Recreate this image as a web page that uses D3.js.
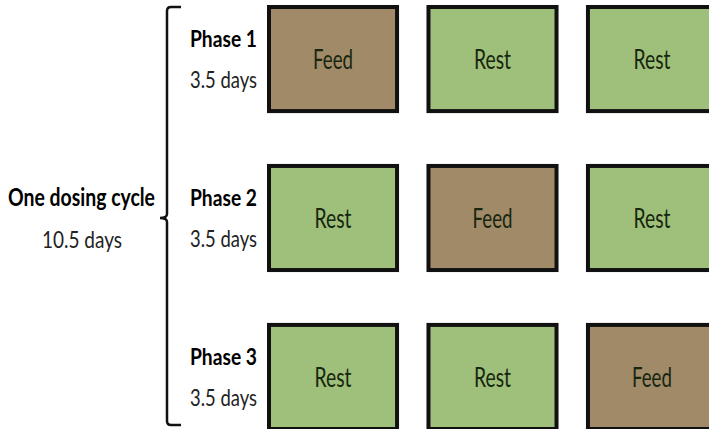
<!DOCTYPE html>
<html lang="en">
<head>
    <meta charset="UTF-8">
    <title>Dosing cycle</title>
    <script src="https://d3js.org/d3.v7.min.js"></script>
    <style>
        body { margin: 0; background: #fff; }
        text { font-family: Lato, "Open Sans", sans-serif; }
    </style>
</head>
<body>
<div id="chart"></div>

<script>
    var phases = ["Phase 1", "Phase 2", "Phase 3"];
    var durations = ["3.5 days", "3.5 days", "3.5 days"];
    var slots = [0, 1, 2];
    var schedule = [
        ["Feed", "Rest", "Rest"],
        ["Rest", "Feed", "Rest"],
        ["Rest", "Rest", "Feed"]
    ];
    var cycleLabel = "One dosing cycle";
    var cycleDays = "10.5 days";

    var w = 709;
    var h = 429;

    var colors = { Feed: "#a08a68", Rest: "#9ec07a" };
    var textColor = "#18260f";

    var svg = d3.select("#chart")
                .append("svg")
                .attr("width", w)
                .attr("height", h);

    var x = d3.scaleBand()
              .domain(slots)
              .range([267, 718])
              .paddingInner(0.172);

    var y = d3.scaleBand()
              .domain(phases)
              .range([5, 431])
              .paddingInner(0.32);

    // boxes
    var cells = [];
    phases.forEach(function(p, i) {
        slots.forEach(function(s) {
            cells.push({ phase: p, slot: s, kind: schedule[i][s] });
        });
    });

    var boxes = svg.selectAll("g.cell")
                   .data(cells)
                   .enter()
                   .append("g")
                   .attr("class", "cell")
                   .attr("transform", function(d) {
                       return "translate(" + x(d.slot) + "," + y(d.phase) + ")";
                   });

    boxes.append("rect")
         .attr("x", 2)
         .attr("y", 2)
         .attr("width", x.bandwidth() - 4)
         .attr("height", y.bandwidth() - 4)
         .attr("fill", function(d) { return colors[d.kind]; })
         .attr("stroke", "#111")
         .attr("stroke-width", 4);

    boxes.append("text")
         .attr("x", x.bandwidth() / 2)
         .attr("y", y.bandwidth() / 2 + 10)
         .attr("text-anchor", "middle")
         .attr("font-size", 27)
         .attr("fill", textColor)
         .attr("textLength", function(d) { return d.kind == "Feed" ? 40 : 37; })
         .attr("lengthAdjust", "spacingAndGlyphs")
         .text(function(d) { return d.kind; });

    // phase labels
    var labels = svg.selectAll("g.phase")
                    .data(phases)
                    .enter()
                    .append("g")
                    .attr("class", "phase")
                    .attr("transform", function(d) {
                        return "translate(190," + y(d) + ")";
                    });

    labels.append("text")
          .attr("y", 42)
          .attr("font-size", 23)
          .attr("font-weight", "bold")
          .attr("fill", "#000")
          .attr("textLength", 67)
          .attr("lengthAdjust", "spacingAndGlyphs")
          .text(function(d) { return d; });

    labels.append("text")
          .attr("y", 83)
          .attr("font-size", 23)
          .attr("fill", "#222")
          .attr("textLength", 67)
          .attr("lengthAdjust", "spacingAndGlyphs")
          .text(function(d, i) { return durations[i]; });

    // brace
    var yTop = 7, yBottom = 425, yMid = 218, bx = 167;
    var brace = d3.path();
    brace.moveTo(181, yTop);
    brace.lineTo(bx + 4, yTop);
    brace.quadraticCurveTo(bx, yTop, bx, yTop + 4);
    brace.lineTo(bx, yMid - 4);
    brace.quadraticCurveTo(bx, yMid, bx - 7, yMid);
    brace.quadraticCurveTo(bx, yMid, bx, yMid + 4);
    brace.lineTo(bx, yBottom - 4);
    brace.quadraticCurveTo(bx, yBottom, bx + 4, yBottom);
    brace.lineTo(181, yBottom);

    svg.append("path")
       .attr("d", brace.toString())
       .attr("fill", "none")
       .attr("stroke", "#111")
       .attr("stroke-width", 2.5);

    svg.append("text")
       .attr("x", 8)
       .attr("y", 206)
       .attr("font-size", 24)
       .attr("font-weight", "bold")
       .attr("fill", "#000")
       .attr("textLength", 147)
       .attr("lengthAdjust", "spacingAndGlyphs")
       .text(cycleLabel);

    svg.append("text")
       .attr("x", 42)
       .attr("y", 248)
       .attr("font-size", 23)
       .attr("fill", "#222")
       .attr("textLength", 80)
       .attr("lengthAdjust", "spacingAndGlyphs")
       .text(cycleDays);
</script>
</body>
</html>
